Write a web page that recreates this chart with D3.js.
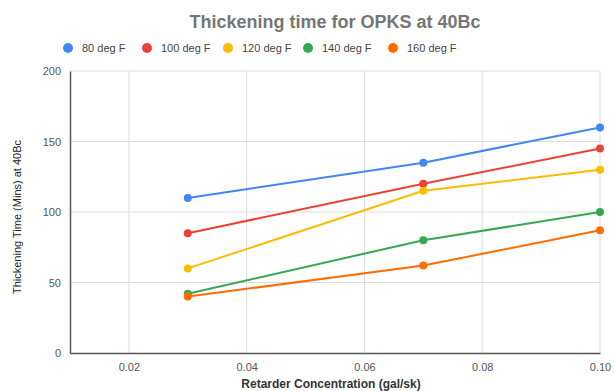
<!DOCTYPE html>
<html>
<head>
<meta charset="utf-8">
<script src="https://cdn.jsdelivr.net/npm/d3@7"></script>
<style>
  body { margin: 0; background: #fff; }
  text { font-family: "Liberation Sans", Arial, sans-serif; }
</style>
</head>
<body>
<script>
var concentrations = [0.03, 0.07, 0.10];
var seriesNames = ['80 deg F', '100 deg F', '120 deg F', '140 deg F', '160 deg F'];
var seriesColors = ['#4285f4', '#ea4335', '#fbbc04', '#34a853', '#ff6d01'];
var deg80 = [110, 135, 160];
var deg100 = [85, 120, 145];
var deg120 = [60, 115, 130];
var deg140 = [42, 80, 100];
var deg160 = [40, 62, 87];
var xTicks = [0.02, 0.04, 0.06, 0.08, 0.10];
var yTicks = [0, 50, 100, 150, 200];

var allSeries = [deg80, deg100, deg120, deg140, deg160];

var svg = d3
  .select('body')
  .append('svg')
  .attr('width', 614)
  .attr('height', 391);

var x = d3.scaleLinear().domain([0.01, 0.10]).range([70, 600]);
var y = d3.scaleLinear().domain([0, 200]).range([353, 71]);

// gridlines
svg
  .selectAll('.hgrid')
  .data(yTicks.slice(1))
  .enter()
  .append('line')
  .attr('x1', 70)
  .attr('x2', 600)
  .attr('y1', function (d) { return y(d); })
  .attr('y2', function (d) { return y(d); })
  .attr('stroke', '#dddddd')
  .attr('stroke-width', 1);
svg
  .selectAll('.vgrid')
  .data(xTicks)
  .enter()
  .append('line')
  .attr('x1', function (d) { return x(d); })
  .attr('x2', function (d) { return x(d); })
  .attr('y1', 71)
  .attr('y2', 353)
  .attr('stroke', '#dddddd')
  .attr('stroke-width', 1);

// axes
var xAxis = svg
  .append('g')
  .attr('transform', 'translate(0,353)')
  .call(d3.axisBottom(x).tickValues(xTicks).tickFormat(d3.format('.2f')).tickSize(0).tickPadding(10));
var yAxis = svg
  .append('g')
  .attr('transform', 'translate(70,0)')
  .call(d3.axisLeft(y).tickValues(yTicks).tickSize(0).tickPadding(9));
[xAxis, yAxis].forEach(function (a) {
  a.select('.domain').attr('stroke', '#555').attr('stroke-width', 1.5);
  a.selectAll('text')
    .attr('fill', '#555')
    .style('font-size', '11px')
    .style('font-family', '"Liberation Sans", Arial, sans-serif');
});

// lines and points
var line = d3
  .line()
  .x(function (d, i) { return x(concentrations[i]); })
  .y(function (d) { return y(d); });

allSeries.forEach(function (s, k) {
  svg
    .append('path')
    .datum(s)
    .attr('d', line)
    .attr('fill', 'none')
    .attr('stroke', seriesColors[k])
    .attr('stroke-width', 2);
  svg
    .selectAll('.pt' + k)
    .data(s)
    .enter()
    .append('circle')
    .attr('cx', function (d, i) { return x(concentrations[i]); })
    .attr('cy', function (d) { return y(d); })
    .attr('r', 4)
    .attr('fill', seriesColors[k]);
});

// title
svg
  .append('text')
  .attr('x', 335)
  .attr('y', 28)
  .attr('text-anchor', 'middle')
  .attr('fill', '#757575')
  .style('font-size', '18px')
  .style('font-weight', 'bold')
  .text('Thickening time for OPKS at 40Bc');

// legend
var legendX = [68, 147, 228, 308, 393];
seriesNames.forEach(function (name, k) {
  svg
    .append('circle')
    .attr('cx', legendX[k])
    .attr('cy', 48)
    .attr('r', 5)
    .attr('fill', seriesColors[k]);
  svg
    .append('text')
    .attr('x', legendX[k] + 14)
    .attr('y', 52)
    .attr('fill', '#444')
    .style('font-size', '11px')
    .text(name);
});

// axis titles
svg
  .append('text')
  .attr('x', 331)
  .attr('y', 388)
  .attr('text-anchor', 'middle')
  .attr('fill', '#333')
  .style('font-size', '12px')
  .style('font-weight', 'bold')
  .text('Retarder Concentration (gal/sk)');
svg
  .append('text')
  .attr('transform', 'translate(21,217) rotate(-90)')
  .attr('text-anchor', 'middle')
  .attr('fill', '#222')
  .style('font-size', '11px')
  .style('font-family', '"Liberation Sans Narrow", "Liberation Sans", Arial, sans-serif')
  .text('Thickening Time (Mins) at 40Bc');
</script>
</body>
</html>
